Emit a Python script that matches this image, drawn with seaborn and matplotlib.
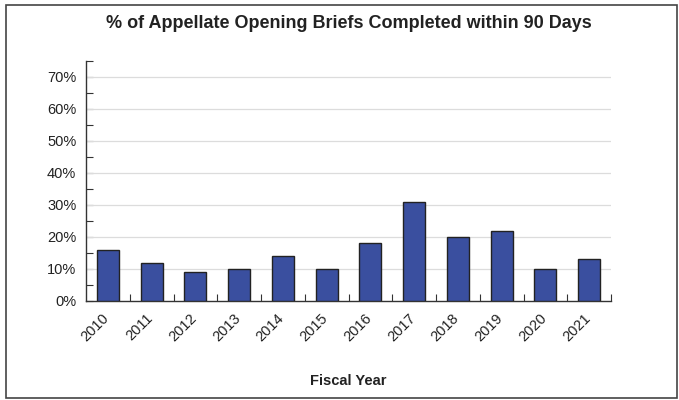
import matplotlib
matplotlib.use("Agg")
import matplotlib.pyplot as plt
import matplotlib.transforms as mtransforms
import seaborn as sns
import pandas as pd
from matplotlib.ticker import PercentFormatter, MultipleLocator, FixedLocator
from matplotlib.patches import Rectangle

years = ["2010", "2011", "2012", "2013", "2014", "2015", "2016", "2017", "2018", "2019", "2020", "2021"]
values = [0.16, 0.12, 0.09, 0.10, 0.14, 0.10, 0.18, 0.31, 0.20, 0.22, 0.10, 0.13]

sns.set_theme(style="white")
plt.rcParams['font.family'] = ['Liberation Sans', 'DejaVu Sans']

df = pd.DataFrame({"year": years, "value": values})

fig = plt.figure(figsize=(6.79, 4.0), dpi=100)
ax = fig.add_axes([86/679, 1 - 301/400, (611 - 86)/679, (301 - 61)/400])

sns.barplot(data=df, x="year", y="value", color="#3a4f9f", saturation=1,
            width=0.5, edgecolor="#222222", linewidth=1.0, ax=ax, zorder=3)

ax.set_xlim(-0.5, len(years) - 0.5)
ax.set_ylim(0, 0.75)
ax.yaxis.set_major_locator(FixedLocator([0, 0.1, 0.2, 0.3, 0.4, 0.5, 0.6, 0.7]))
ax.yaxis.set_minor_locator(MultipleLocator(0.05))
ax.yaxis.set_major_formatter(PercentFormatter(1.0, decimals=0))

for y in [0.1, 0.2, 0.3, 0.4, 0.5, 0.6, 0.7]:
    ax.axhline(y, color="#dcdcdc", linewidth=0.9, zorder=1)

ax.xaxis.set_minor_locator(FixedLocator([i + 0.5 for i in range(len(years))]))
ax.tick_params(axis="x", which="major", length=0, pad=7, labelsize=10.5, colors="#222222")
ax.tick_params(axis="x", which="minor", direction="in", length=5, width=0.8, color="#333333", bottom=True)
ax.tick_params(axis="y", which="both", direction="in", length=5, width=0.8, color="#333333", left=True)
ax.tick_params(axis="y", which="major", labelsize=10.5, pad=7, labelcolor="#222222")
offset = mtransforms.ScaledTranslation(-6/100, 0, fig.dpi_scale_trans)
for lab in ax.get_xticklabels():
    lab.set_rotation(45)
    lab.set_ha("right")
    lab.set_rotation_mode("anchor")
    lab.set_transform(lab.get_transform() + offset)

for s in ["top", "right"]:
    ax.spines[s].set_visible(False)
for s in ["left", "bottom"]:
    ax.spines[s].set_color("#333333")
    ax.spines[s].set_linewidth(1.0)

ax.set_ylabel("")
ax.set_xlabel("Fiscal Year", fontsize=10.5, fontweight="bold", labelpad=22, color="#222222")
ax.set_title("% of Appellate Opening Briefs Completed within 90 Days",
             fontsize=13, fontweight="bold", pad=24, color="#222222")

fig.patches.append(Rectangle((6/679, 2/400), 671/679, 393/400, transform=fig.transFigure,
                             fill=False, edgecolor="#444444", linewidth=1.2))

fig.savefig("out.png", dpi=100)
